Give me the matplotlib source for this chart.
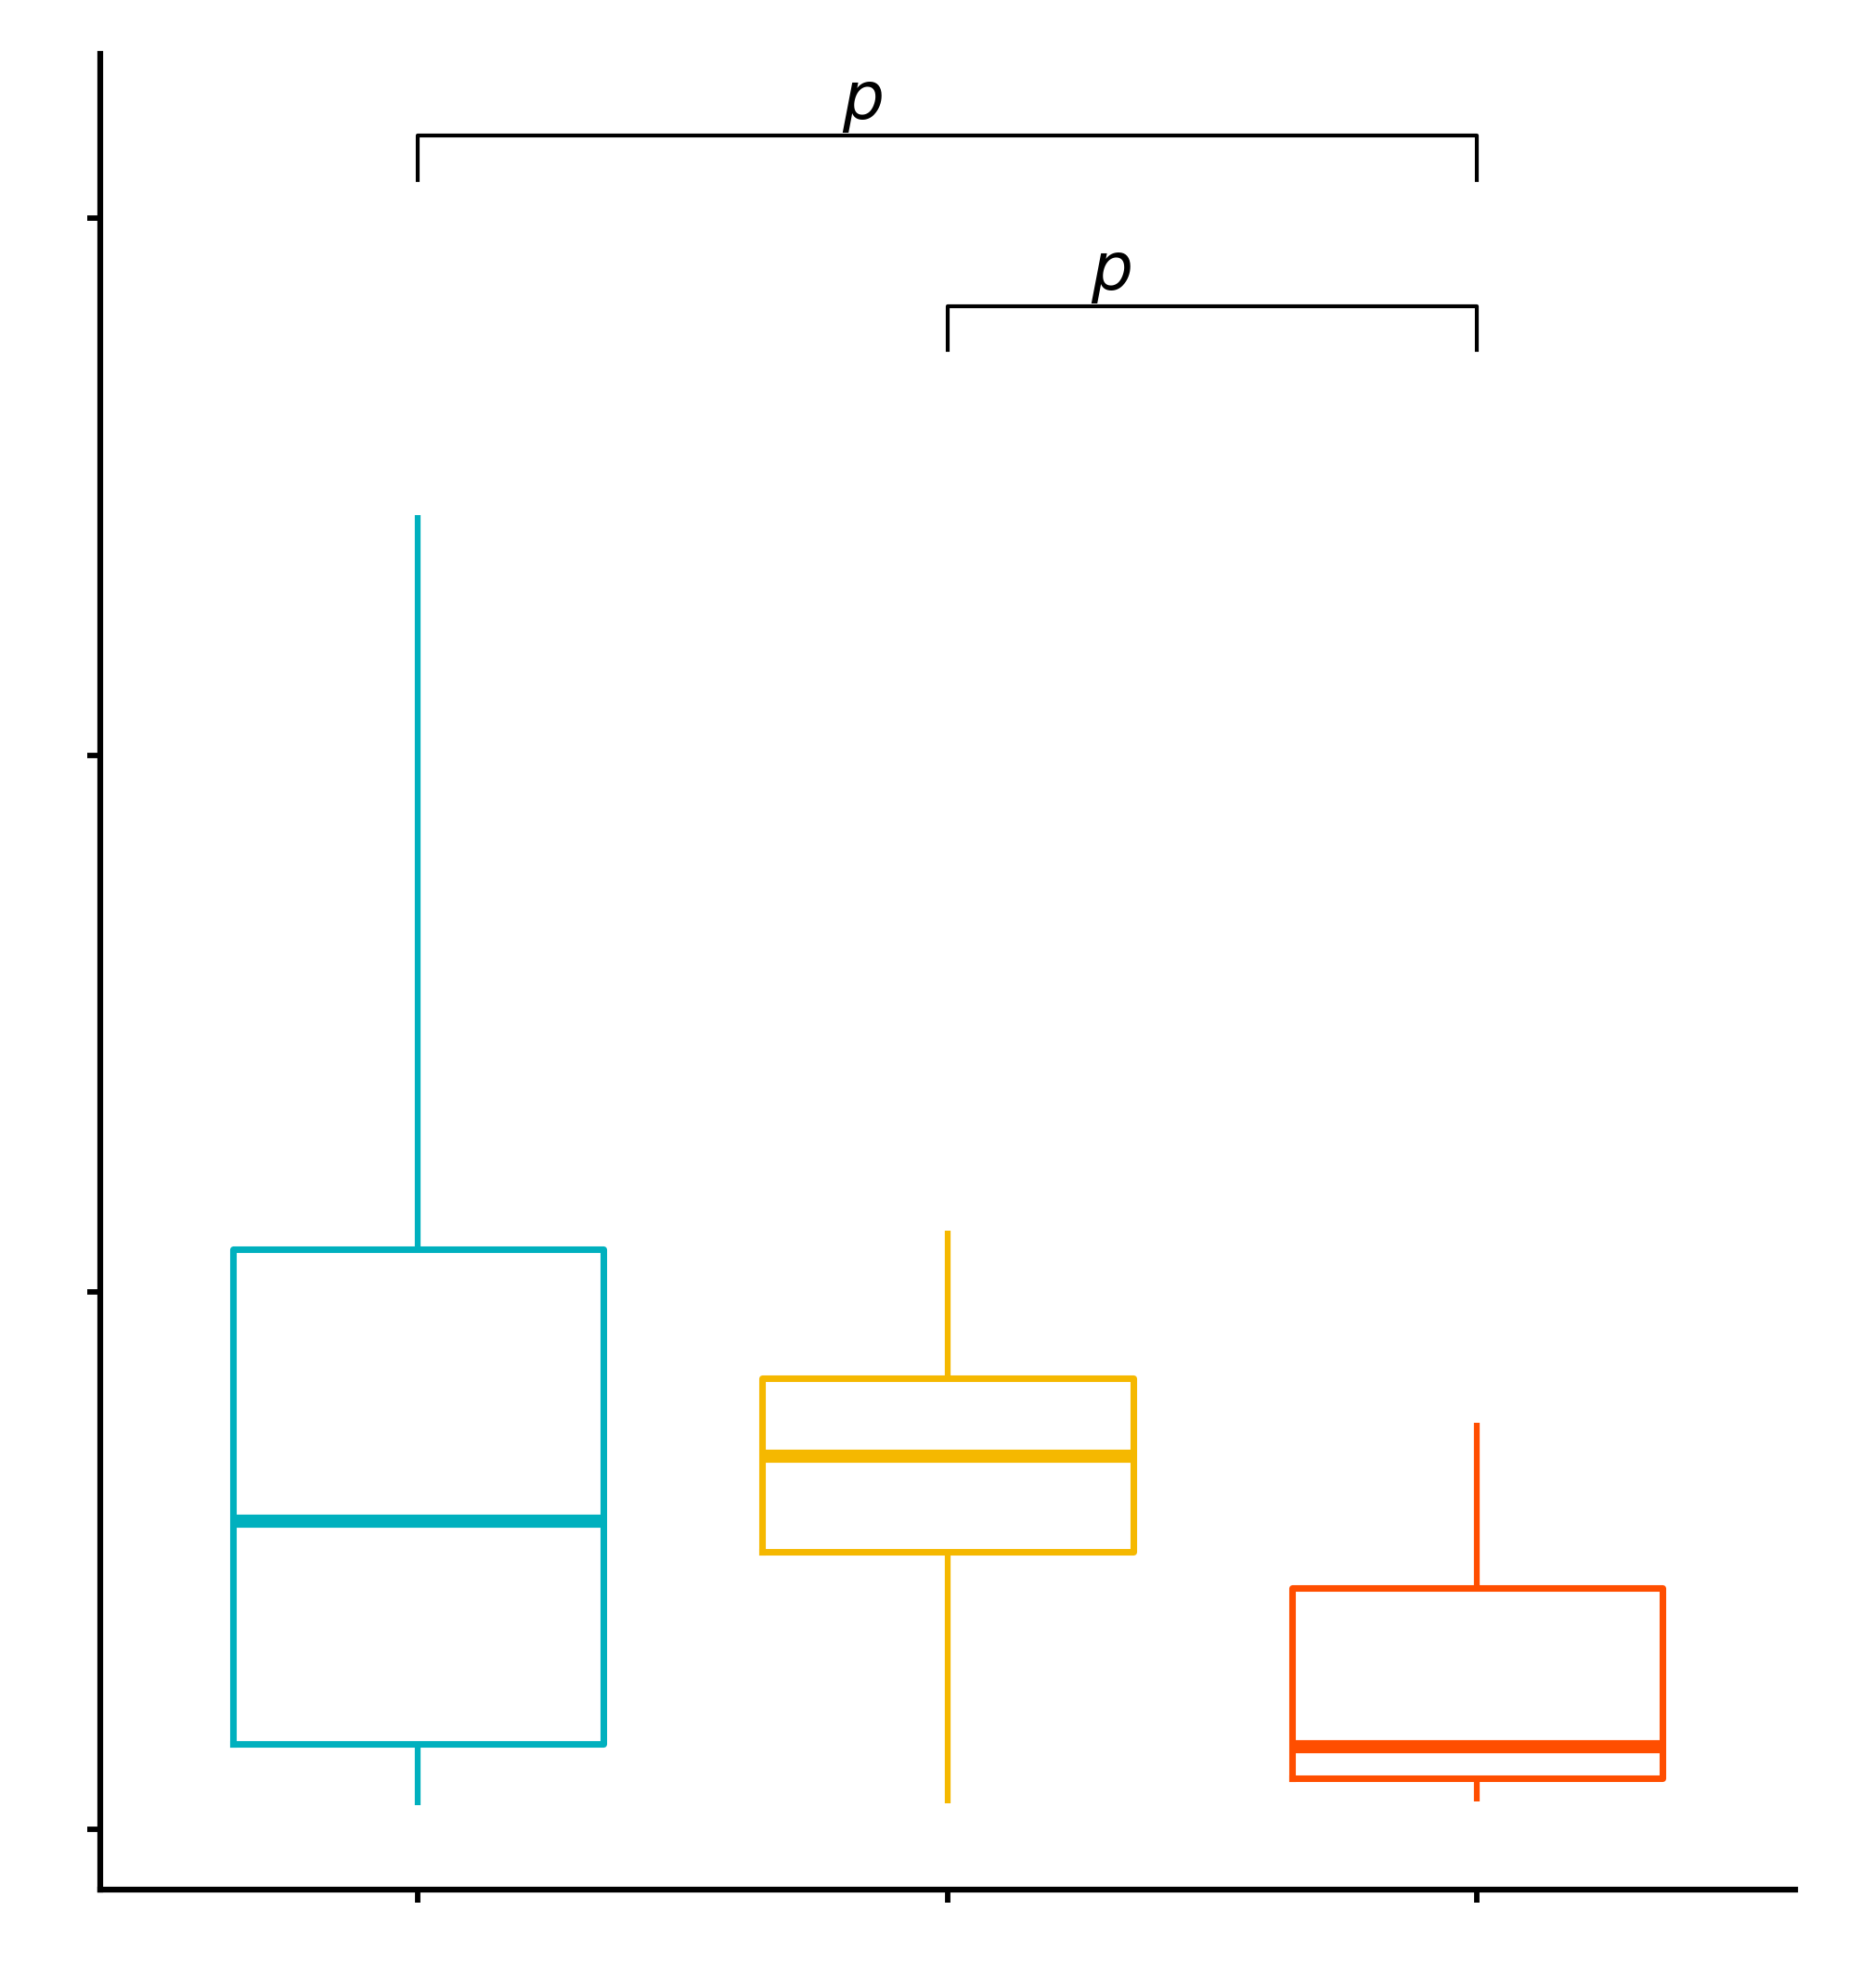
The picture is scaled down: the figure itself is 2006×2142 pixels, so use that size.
import matplotlib
matplotlib.use("Agg")
import matplotlib.pyplot as plt

groups = ["A", "B", "C"]
colors = ["#00B0BE", "#F5B800", "#FF4E00"]
whislo = [0.045, 0.047, 0.052]
q1 = [0.158, 0.517, 0.095]
med = [0.574, 0.695, 0.154]
q3 = [1.080, 0.839, 0.449]
whishi = [2.447, 1.115, 0.756]

# significance brackets: (x1, x2, height, label x)
brackets = [(1, 3, 3.154, 1.84), (2, 3, 2.837, 2.31)]
leg = 0.082

fig = plt.figure(figsize=(2006 / 300, 2142 / 300), dpi=300)
ax = fig.add_axes([0.0538, 0.0495, 0.9102, 0.9235])

stats = []
for i in range(len(groups)):
    stats.append({"whislo": whislo[i], "q1": q1[i], "med": med[i],
                  "q3": q3[i], "whishi": whishi[i], "fliers": [], "label": groups[i]})

bp = ax.bxp(stats, positions=[1, 2, 3], widths=0.7, showcaps=False,
            showfliers=False, patch_artist=False)
for i, c in enumerate(colors):
    bp["boxes"][i].set(color=c, linewidth=1.7)
    bp["medians"][i].set(color=c, linewidth=3.4, solid_capstyle="butt")
    for w in bp["whiskers"][2 * i:2 * i + 2]:
        w.set(color=c, linewidth=1.5, solid_capstyle="butt")

for x1, x2, h, tx in brackets:
    ax.plot([x1, x1, x2, x2], [h - leg, h, h, h - leg], color="black", linewidth=1.0)
    ax.text(tx, h + 0.005, "p", style="italic", fontsize=17, ha="center", va="bottom")

ax.set_xlim(0.4, 3.6)
ax.set_ylim(-0.113, 3.307)
ax.set_yticks([0, 1, 2, 3])
ax.set_yticklabels([])
ax.set_xticks([1, 2, 3])
ax.set_xticklabels([])
ax.spines["top"].set_visible(False)
ax.spines["right"].set_visible(False)
ax.spines["left"].set_linewidth(1.5)
ax.spines["bottom"].set_linewidth(1.5)
ax.tick_params(length=3.4, width=1.4)

fig.savefig("out.png", dpi=300, facecolor="white")
